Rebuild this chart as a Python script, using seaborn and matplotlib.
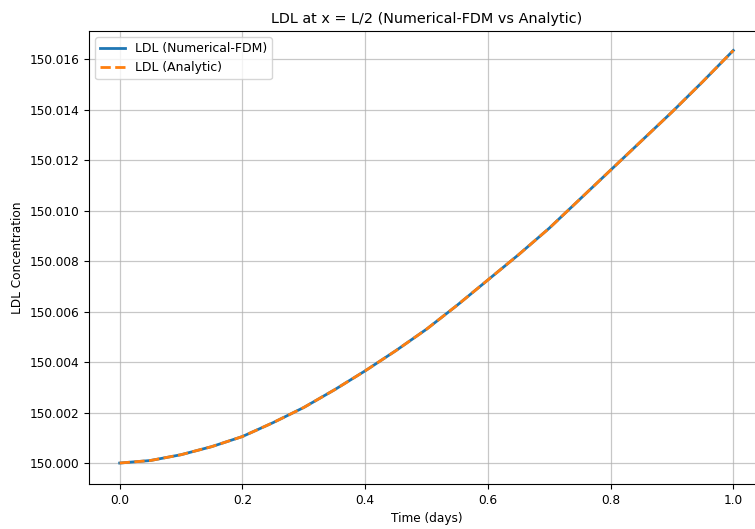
import matplotlib
matplotlib.use("Agg")
import matplotlib.pyplot as plt
import seaborn as sns
import pandas as pd
from matplotlib.ticker import FormatStrFormatter, MultipleLocator

# Data (time in days, LDL concentration)
time_days = [0.0, 0.05, 0.1, 0.15, 0.2, 0.25, 0.3, 0.35, 0.4, 0.45, 0.5,
             0.55, 0.6, 0.65, 0.7, 0.75, 0.8, 0.85, 0.9, 0.95, 1.0]
ldl_numerical = [150.00000, 150.00010, 150.00033, 150.00065, 150.00105,
                 150.00160, 150.00220, 150.00290, 150.00365, 150.00445,
                 150.00530, 150.00625, 150.00725, 150.00825, 150.00930,
                 150.01045, 150.01160, 150.01275, 150.01390, 150.01510,
                 150.01634]
ldl_analytic = [150.00000, 150.00010, 150.00033, 150.00065, 150.00105,
                150.00160, 150.00220, 150.00290, 150.00365, 150.00445,
                150.00530, 150.00625, 150.00725, 150.00825, 150.00930,
                150.01045, 150.01160, 150.01275, 150.01390, 150.01510,
                150.01634]

df = pd.DataFrame({"t": time_days, "num": ldl_numerical, "ana": ldl_analytic})

plt.rcParams["font.family"] = ["DejaVu Sans"]
plt.rcParams["font.size"] = 8.7

fig = plt.figure(figsize=(7.55, 5.29), dpi=100)
ax = fig.add_axes([89 / 755, (529 - 484) / 529, (764 - 89) / 755, (484 - 31) / 529])

sns.lineplot(data=df, x="t", y="num", ax=ax, color="#1f77b4", linewidth=2,
             label="LDL (Numerical-FDM)")
sns.lineplot(data=df, x="t", y="ana", ax=ax, color="#ff7f0e", linewidth=2,
             linestyle="--", label="LDL (Analytic)")

ax.set_xlim(-0.05, 1.05)
ax.set_ylim(149.99917, 150.01711)
ax.yaxis.set_major_locator(MultipleLocator(0.002))
ax.yaxis.set_major_formatter(FormatStrFormatter("%.3f"))
ax.xaxis.set_major_locator(MultipleLocator(0.2))
ax.grid(True, color="#b0b0b0", linewidth=0.9, alpha=0.7)

ax.set_title("LDL at x = L/2 (Numerical-FDM vs Analytic)", fontsize=10.4)
ax.set_xlabel("Time (days)")
ax.set_ylabel("LDL Concentration")
ax.legend(loc="upper left", fontsize=8.9)

fig.savefig("out.png", dpi=100)
